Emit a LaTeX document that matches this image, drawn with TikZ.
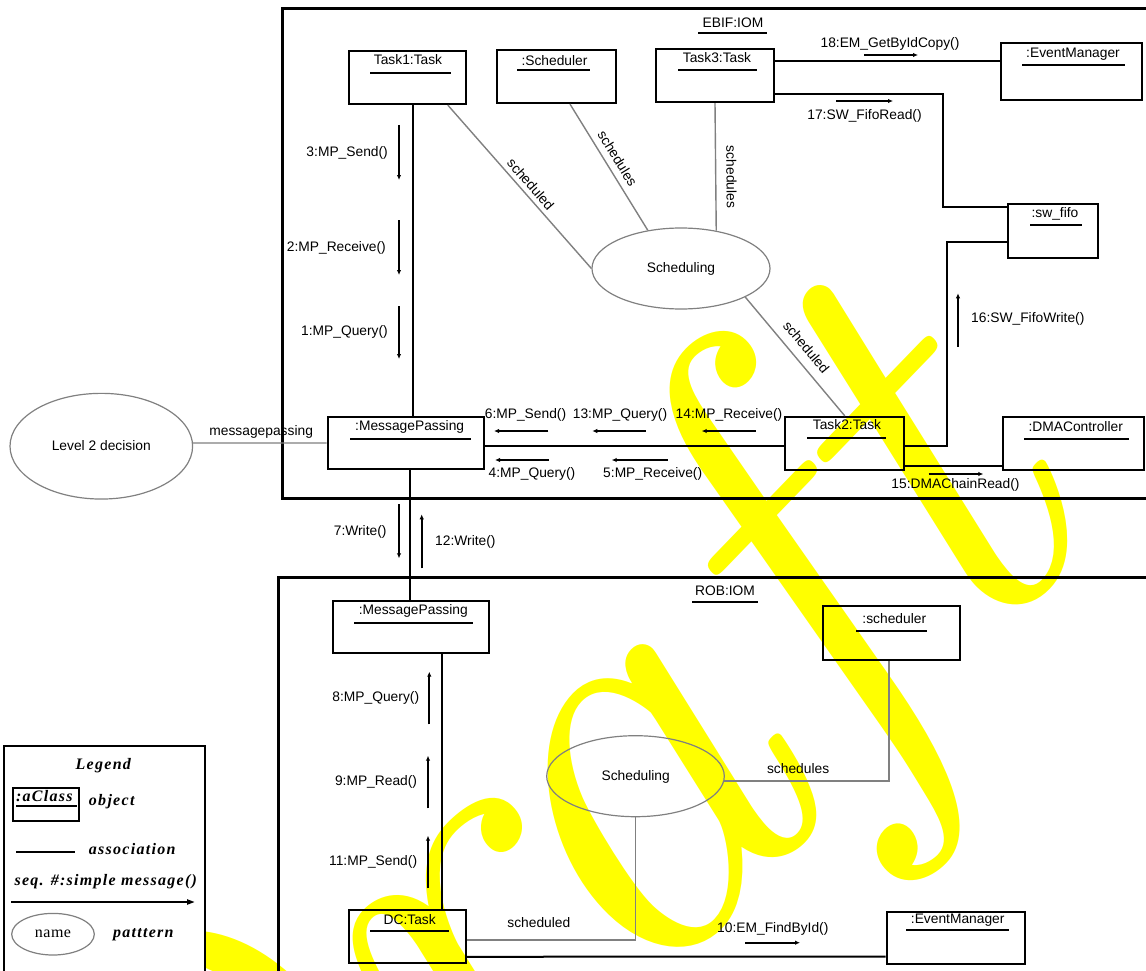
\documentclass[tikz,border=0pt]{standalone}
\usepackage{fontspec}
\setsansfont{Liberation Sans}
\newfontfamily\legendfont{Liberation Serif}[LetterSpace=8]
\newfontfamily\legendplain{Liberation Serif}[LetterSpace=3]
\newfontfamily\wmfont{Latin Modern Roman}
\usetikzlibrary{arrows.meta,shapes.geometric}
\definecolor{pattgray}{RGB}{128,128,128}
\definecolor{wmyellow}{RGB}{255,255,0}
\begin{document}
\begin{tikzpicture}[x=1pt,y=-1pt,
  every node/.style={inner sep=0pt},
  lbl/.style={font=\sffamily\fontsize{13.8}{16}\selectfont},
  frame/.style={line width=3pt},
  objbox/.style={draw, line width=2.2pt, inner sep=0pt},
  uline/.style={line width=2pt},
  assoc/.style={line width=2pt},
  patt/.style={ellipse, draw=pattgray, line width=1.2pt, inner sep=0pt},
  pline/.style={draw=pattgray, line width=1.4pt},
  msg/.style={line width=2pt, -{Latex[length=5pt,width=4.5pt]}},
  lgd/.style={font=\legendfont\bfseries\itshape\fontsize{16}{18}\selectfont},
]
\useasboundingbox (0,0) rectangle (1146,971);
\clip (0,0) rectangle (1146,971);

% watermark behind everything
\node[rotate=46, anchor=base west, text=wmyellow,
      font=\wmfont\itshape\fontsize{600}{600}\selectfont] (wm) at (170,1492) {Draft};

% ---------------- EBIF:IOM ----------------
\draw[frame] (282,9) rectangle (1160,498);
\node[lbl] (ebif) at (733,23) {EBIF:IOM};
\draw[uline] (698,33.5) -- (767,33.5);

\node[objbox, minimum width=117pt, minimum height=53pt] (task1) at (407.5,77.5) {};
\node[lbl] (task1-t) at (408,60) {Task1:Task};
\draw[uline] (370,73) -- (451,73);

\node[objbox, minimum width=119pt, minimum height=53pt] (schedtop) at (556.5,76.5) {};
\node[lbl] (schedtop-t) at (554.5,60.5) {:Scheduler};
\draw[uline] (517,70) -- (590,70);

\node[objbox, minimum width=118pt, minimum height=53pt] (task3) at (715,75.5) {};
\node[lbl] (task3-t) at (717,58) {Task3:Task};
\draw[uline] (678,70) -- (757,70);

\node[objbox, minimum width=141pt, minimum height=57pt] (em1) at (1071.5,71.5) {};
\node[lbl] (em1-t) at (1073,54.5) {:EventManager};
\draw[uline] (1022,65) -- (1125,65);

\node[objbox, minimum width=90pt, minimum height=54pt] (swfifo) at (1052.7,231.3) {};
\node[lbl] (swfifo-t) at (1055,214) {:sw\_fifo};
\draw[uline] (1030,224.5) -- (1082,224.5);

\node[objbox, minimum width=141.6pt, minimum height=53pt] (dma) at (1073.5,443.5) {};
\node[lbl] (dma-t) at (1075.7,426.7) {:DMAController};
\draw[uline] (1024,438.7) -- (1128.7,438.7);

\node[objbox, minimum width=119pt, minimum height=53pt] (task2) at (844.8,443.5) {};
\node[lbl] (task2-t) at (847,425) {Task2:Task};
\draw[uline] (807,437.7) -- (886,437.7);

\node[objbox, minimum width=156.3pt, minimum height=52pt] (mp1) at (405.9,443) {};
\node[lbl] (mp1-t) at (409.7,427) {:MessagePassing};
\draw[uline] (350,439) -- (470.7,439);

\node[patt, minimum width=178pt, minimum height=81pt] (pat1) at (681,268.5) {};
\node[lbl] (pat1-t) at (681,268.5) {Scheduling};

\node[patt, minimum width=182.6pt, minimum height=105.7pt] (lvl2) at (101.3,446.2) {};
\node[lbl] (lvl2-t) at (101.3,446) {Level 2 decision};

% associations
\draw[assoc] ([yshift=14.5pt]task3.east) -- ([yshift=10.5pt]em1.west);
\draw[assoc] ([yshift=-18.5pt]task3.east) -| ([xshift=-63.7pt,yshift=24.6pt]swfifo.west) -- ([yshift=24.6pt]swfifo.west);
\draw[assoc] ([yshift=-10.4pt]swfifo.west) -| ([xshift=41.7pt,yshift=-2.2pt]task2.east) -- ([yshift=-2.2pt]task2.east);
\draw[assoc] ([yshift=-3pt]mp1.east) -- ([yshift=-2.5pt]task2.west);
\draw[assoc] ([yshift=-22.2pt]task2.east) -- ([yshift=-22.2pt]dma.west);
\draw[assoc] ([xshift=5.5pt]task1.south) -- ([xshift=7.1pt]mp1.north);

% pattern links
\draw[pline] ([xshift=-19.3pt]task1.south east) -- (pat1.west)
  node[lbl, sloped, above=4.3pt, pos=.525] (l1) {scheduled};
\draw[pline] ([xshift=13.5pt]schedtop.south) -- (pat1.131)
  node[lbl, sloped, above=6.2pt, pos=.48] (l2) {schedules};
\draw[pline] (task3.south) -- (pat1.47)
  node[lbl, sloped, above=10pt, pos=.58] (l3) {schedules};
\draw[pline] (pat1.-24) -- (task2.north)
  node[lbl, sloped, above=9pt, pos=.5] (l4) {scheduled};
\draw[pline] (lvl2.2) -- (mp1.west)
  node[lbl, above=4pt, pos=.51] (l5) {messagepassing};

% messages
\draw[msg] (399,125) -- (399,180);
\node[lbl, anchor=east] (m3) at (388,153) {3:MP\_Send()};
\draw[msg] (399,220) -- (399,275);
\node[lbl, anchor=east] (m2) at (386,248) {2:MP\_Receive()};
\draw[msg] (399,306) -- (399,359);
\node[lbl, anchor=east] (m1) at (388,332) {1:MP\_Query()};

\draw[msg] (548.3,431) -- (494,431);
\node[lbl] (m6) at (525.5,415) {6:MP\_Send()};
\draw[msg] (645.7,431) -- (592.3,431);
\node[lbl] (m13) at (620,415) {13:MP\_Query()};
\draw[msg] (755.7,431) -- (701.7,431);
\node[lbl] (m14) at (729,415) {14:MP\_Receive()};
\draw[msg] (549,460) -- (495,460);
\node[lbl] (m4) at (532,474) {4:MP\_Query()};
\draw[msg] (667.7,460) -- (611.7,460);
\node[lbl] (m5) at (652.7,474) {5:MP\_Receive()};

\draw[msg] (928.7,474) -- (983.3,474);
\node[lbl] (m15) at (955.5,485) {15:DMAChainRead()};
\draw[msg] (958,346.7) -- (958,293.3);
\node[lbl, anchor=west] (m16) at (971,319.3) {16:SW\_FifoWrite()};
\draw[msg] (836,101) -- (893,101);
\node[lbl] (m17) at (864.5,116) {17:SW\_FifoRead()};
\draw[msg] (864,55) -- (918,55);
\node[lbl] (m18) at (890,44) {18:EM\_GetByIdCopy()};

% ---------------- between the two parts ----------------
\draw[msg] (399,504.3) -- (399,558.3);
\node[lbl, anchor=east] (m7) at (386.7,531.7) {7:Write()};
\draw[msg] (421.7,568.3) -- (421.7,514.3);
\node[lbl, anchor=west] (m12) at (435,541.7) {12:Write()};

% ---------------- ROB:IOM ----------------
\draw[frame] (278,577.5) rectangle (1160,990);
\node[lbl] (rob) at (725,591) {ROB:IOM};
\draw[uline] (692.3,601.7) -- (757.7,601.7);

\node[objbox, minimum width=156.3pt, minimum height=51.7pt] (mp2) at (410.9,626.9) {};
\node[lbl] (mp2-t) at (413.3,610.7) {:MessagePassing};
\draw[uline] (354,622.7) -- (472.7,622.7);

\node[objbox, minimum width=137.6pt, minimum height=54.3pt] (schedbot) at (891.5,632.9) {};
\node[lbl] (schedbot-t) at (894.3,619) {:scheduler};
\draw[uline] (856,630.7) -- (927,630.7);

\node[objbox, minimum width=117.3pt, minimum height=52.7pt] (dc) at (407.4,936.4) {};
\node[lbl] (dc-t) at (409.7,920) {DC:Task};
\draw[uline] (370,930.7) -- (449,930.7);

\node[objbox, minimum width=138.3pt, minimum height=52.6pt] (em2) at (955.9,938) {};
\node[lbl] (em2-t) at (957.7,920) {:EventManager};
\draw[uline] (906,930) -- (1008.7,930);

\node[patt, minimum width=177.6pt, minimum height=81pt] (pat2) at (635.5,776.2) {};
\node[lbl] (pat2-t) at (635.7,776.7) {Scheduling};

\draw[assoc] ([xshift=4.1pt]mp1.south) -- ([xshift=-0.9pt]mp2.north);
\draw[assoc] ([xshift=31.1pt]mp2.south) -- ([xshift=34.6pt]dc.north);
\draw[assoc] ([yshift=-20.35pt]dc.east) -- ([yshift=-18.7pt]em2.west);

\draw[pline] ([yshift=-3.65pt]dc.east) -| (pat2.south)
  node[lbl, above=11.7pt, pos=.213] (l6) {scheduled};
\draw[pline] ([xshift=-2.5pt]schedbot.south) |- (pat2.-3)
  node[lbl, above=6.4pt, pos=.776] (l7) {schedules};

\draw[msg] (429.3,724.3) -- (429.3,671.7);
\node[lbl, anchor=east] (m8) at (419.3,697.7) {8:MP\_Query()};
\draw[msg] (428,808.3) -- (428,755.7);
\node[lbl, anchor=east] (m9) at (417.3,781.7) {9:MP\_Read()};
\draw[msg] (428,888.3) -- (428,835.7);
\node[lbl, anchor=east] (m11) at (417.3,861.7) {11:MP\_Send()};
\draw[msg] (745.3,942.7) -- (800,942.7);
\node[lbl] (m10) at (772.8,929) {10:EM\_FindById()};

% ---------------- legend ----------------
\draw[line width=2pt, fill=white] (4,746) rectangle (205,990);
\node[lgd] (lg-title) at (103.3,766) {Legend};
\node[objbox, line width=2pt, minimum width=66pt, minimum height=33pt] (lg-obj) at (45.9,804.4) {};
\node[lgd] (lg-obj-t) at (44.4,796.5) {:aClass};
\draw[uline] (16,805.7) -- (76.7,805.7);
\node[lgd] (lg-obj-d) at (111.7,801.7) {object};
\draw[assoc] (16,851.7) -- (75,851.7);
\node[lgd] (lg-assoc) at (132.2,849.3) {association};
\node[lgd] (lg-msg) at (105.8,881.7) {seq. \#:simple message()};
\draw[line width=2pt, -{Triangle[open,length=8pt,width=5pt]}] (11,902) -- (195,902);
\node[patt, minimum width=82.6pt, minimum height=41.6pt] (lg-pat) at (53,934.2) {};
\node[font=\legendplain\fontsize{16}{18}\selectfont] (lg-pat-t) at (53,934) {name};
\node[lgd] (lg-pat-d) at (143.3,935) {patttern};
\end{tikzpicture}
\end{document}
